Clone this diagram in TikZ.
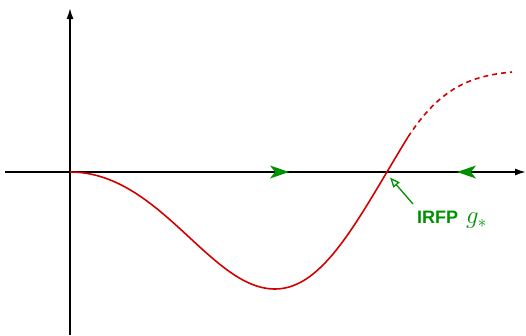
\documentclass[tikz,border=0pt]{standalone}
\usepackage{fontspec}
\setsansfont{Liberation Sans}
\usetikzlibrary{arrows.meta}
\definecolor{fpgreen}{RGB}{0,145,0}
\definecolor{fpred}{RGB}{210,0,0}
\tikzset{
  axis/.style={line width=1.6pt, -{Latex[length=11pt,width=7pt]}},
  flow/.style={fill=fpgreen},
  curve/.style={fpred, line width=1.6pt},
}
\begin{document}
\begin{tikzpicture}[x=1pt,y=-1pt]
\useasboundingbox (0,0) rectangle (526,335);
% axes
\coordinate (O) at (70,172);
\coordinate (xs) at (5,172);
\coordinate (xe) at (526,172);
\coordinate (ys) at (70,335);
\coordinate (ye) at (70,8);
\draw[axis] (xs) -- (xe);
\draw[axis] (ys) -- (ye);
% curve
\coordinate (fp) at (387,172);
\coordinate (sw) at (408,137);
\draw[curve] (O) .. controls (160,172) and (210,289) .. (275,289)
  .. controls (325,289) and (360,215) .. (sw);
\draw[curve, dashed, dash pattern=on 5pt off 4pt] (sw) .. controls (440,88) and (470,76) .. (512,72);
% flow arrows
\fill[flow] (289,172) -- (270,165.5) -- (275,172) -- (270,178.5) -- cycle;
\fill[flow] (457,172) -- (476,165.5) -- (471,172) -- (476,178.5) -- cycle;
% label
\node[fpgreen, anchor=west, inner sep=0pt] (lab) at (417,220) {\fontsize{18}{20}\selectfont\sffamily\bfseries IRFP\hspace{8pt}\normalfont\fontsize{27}{27}\selectfont$g_*$};
\coordinate (ls) at (413,204);
\draw[fpgreen, line width=1.3pt, -{Triangle[open,length=10pt,width=8pt]}] (ls) -- (390,177.5);
\end{tikzpicture}
\end{document}
